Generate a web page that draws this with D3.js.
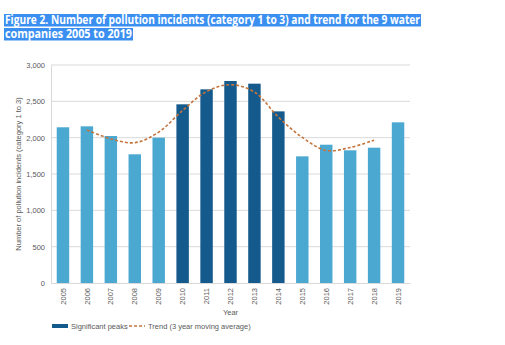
<!DOCTYPE html>
<html>
<head>
<meta charset="utf-8">
<script src="https://cdn.jsdelivr.net/npm/d3@7"></script>
<style>
  body { margin: 0; background: #fff; }
  svg { display: block; font-family: "Liberation Sans", Arial, sans-serif; }
</style>
</head>
<body>
<svg id="chart" width="505" height="345"></svg>
<script>
// Data
const years = ['2005', '2006', '2007', '2008', '2009', '2010', '2011', '2012', '2013', '2014', '2015', '2016', '2017', '2018', '2019'];
const incidents = [2143, 2156, 2023, 1771, 2000, 2459, 2665, 2780, 2743, 2362, 1743, 1903, 1826, 1862, 2211];
const peakYears = ['2010', '2011', '2012', '2013', '2014'];
const trendYears = ['2006', '2007', '2008', '2009', '2010', '2011', '2012', '2013', '2014', '2015', '2016', '2017', '2018'];
const trendValues = [2107, 1983, 1931, 2077, 2375, 2635, 2729, 2628, 2283, 2003, 1824, 1864, 1966];
const yTicks = [0, 500, 1000, 1500, 2000, 2500, 3000];

const titleLines = [
  'Figure 2. Number of pollution incidents (category 1 to 3) and trend for the 9 water',
  'companies 2005 to 2019'
];

const COLOR_LIGHT = '#4aa8d1';
const COLOR_DARK = '#155a8c';
const COLOR_TREND = '#c4743c';
const COLOR_GRID = '#d9d9d9';
const COLOR_TEXT = '#595959';

const svg = d3.select('#chart');
const margin = { left: 51, right: 95, top: 65, bottom: 62 };
const width = 505, height = 345;

const x = d3.scaleBand()
  .domain(years)
  .range([margin.left, width - margin.right])
  .paddingInner(0.48)
  .paddingOuter(0.24);

const y = d3.scaleLinear()
  .domain([0, 3000])
  .range([height - margin.bottom, margin.top]);

// Title (with highlighted background)
const titleWidths = [417, 129];
titleLines.forEach((line, i) => {
  const ty = 14 + i * 14;
  svg.append('rect')
    .attr('x', 4).attr('y', ty)
    .attr('width', titleWidths[i]).attr('height', 12.5)
    .attr('fill', '#3b8ff0');
  svg.append('text')
    .attr('x', 5).attr('y', ty + 10)
    .attr('fill', '#fff')
    .attr('font-size', 11.5)
    .attr('font-weight', 'bold')
    .attr('font-family', '"Open Sans", "Noto Sans", sans-serif')
    .attr('textLength', titleWidths[i] - 2)
    .attr('lengthAdjust', 'spacingAndGlyphs')
    .text(line);
});

// Gridlines
svg.append('g')
  .selectAll('line')
  .data(yTicks.filter(d => d > 0))
  .join('line')
  .attr('x1', margin.left).attr('x2', width - margin.right)
  .attr('y1', d => y(d)).attr('y2', d => y(d))
  .attr('stroke', COLOR_GRID)
  .attr('stroke-width', 1);

// Y axis
const yAxis = svg.append('g')
  .attr('transform', `translate(${margin.left},0)`)
  .call(d3.axisLeft(y).tickValues(yTicks).tickFormat(d3.format(',')).tickSize(0).tickPadding(6));
yAxis.select('.domain').attr('stroke', COLOR_GRID);
yAxis.selectAll('text').attr('fill', COLOR_TEXT).attr('font-size', 7.5);

// X axis
const xAxis = svg.append('g')
  .attr('transform', `translate(0,${y(0)})`)
  .call(d3.axisBottom(x).tickSize(0).tickPadding(0));
xAxis.select('.domain').attr('stroke', COLOR_GRID);
xAxis.selectAll('text')
  .attr('fill', COLOR_TEXT)
  .attr('font-size', 7.5)
  .attr('text-anchor', 'end')
  .attr('transform', 'rotate(-90)')
  .attr('x', -5)
  .attr('y', 0)
  .attr('dy', '0.35em');

// Bars
svg.append('g')
  .selectAll('rect')
  .data(years)
  .join('rect')
  .attr('x', d => x(d))
  .attr('width', x.bandwidth())
  .attr('y', (d, i) => y(incidents[i]))
  .attr('height', (d, i) => y(0) - y(incidents[i]))
  .attr('fill', d => peakYears.includes(d) ? COLOR_DARK : COLOR_LIGHT);

// Trend line
const line = d3.line()
  .x((d, i) => x(trendYears[i]) + x.bandwidth() / 2)
  .y(d => y(d))
  .curve(d3.curveCatmullRom.alpha(0.5));

svg.append('path')
  .datum(trendValues)
  .attr('d', line)
  .attr('fill', 'none')
  .attr('stroke', COLOR_TREND)
  .attr('stroke-width', 1.6)
  .attr('stroke-dasharray', '3,2');

// Axis titles
svg.append('text')
  .attr('x', (margin.left + width - margin.right) / 2)
  .attr('y', 315)
  .attr('text-anchor', 'middle')
  .attr('fill', COLOR_TEXT)
  .attr('font-size', 7.5)
  .text('Year');

svg.append('text')
  .attr('transform', `translate(21,${(y(0) + y(3000)) / 2}) rotate(-90)`)
  .attr('text-anchor', 'middle')
  .attr('fill', COLOR_TEXT)
  .attr('font-size', 7.5)
  .text('Number of pollution incidents (category 1 to 3)');

// Legend
const legend = svg.append('g').attr('transform', 'translate(52,326)');
legend.append('rect')
  .attr('x', 0).attr('y', -2)
  .attr('width', 16).attr('height', 4)
  .attr('fill', COLOR_DARK);
legend.append('text')
  .attr('x', 19).attr('y', 0).attr('dy', '0.35em')
  .attr('fill', COLOR_TEXT).attr('font-size', 7.5)
  .text('Significant peaks');
legend.append('line')
  .attr('x1', 77).attr('x2', 93)
  .attr('y1', 0).attr('y2', 0)
  .attr('stroke', COLOR_TREND)
  .attr('stroke-width', 1.6)
  .attr('stroke-dasharray', '3,2');
legend.append('text')
  .attr('x', 96).attr('y', 0).attr('dy', '0.35em')
  .attr('fill', COLOR_TEXT).attr('font-size', 7.5)
  .text('Trend (3 year moving average)');
</script>
</body>
</html>
